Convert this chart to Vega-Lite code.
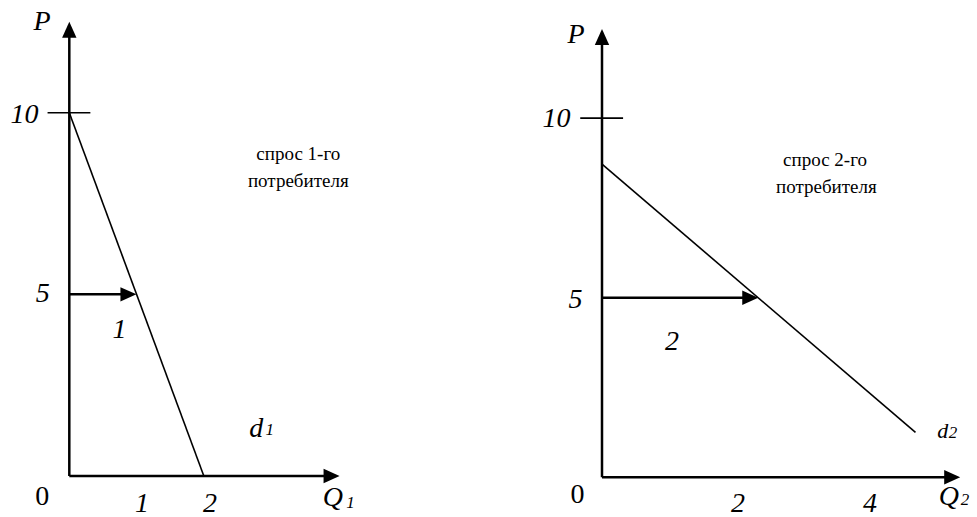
{
  "$schema": "https://vega.github.io/schema/vega-lite/v6.json",
  "padding": 0,
  "background": "white",
  "spacing": 57,
  "config": {"view": {"stroke": null}, "text": {"font": "'Liberation Serif', 'Times New Roman', Times, 'DejaVu Serif', serif"}},
  "hconcat": [
    {
      "width": 477,
      "height": 517,
      "layer": [
        {
          "data": {"values": [
            {"q": 0, "p": 0, "q2": 0, "p2": 12.28},
            {"q": 0, "p": 0, "q2": 3.86, "p2": 0},
            {"q": 0, "p": 5, "q2": 0.87, "p2": 5}
          ]},
          "mark": {"type": "rule", "color": "black", "strokeWidth": 2.5},
          "encoding": {
            "x": {"field": "q", "type": "quantitative", "axis": null, "scale": {"domain": [-1.02, 6], "nice": false, "zero": false}},
            "y": {"field": "p", "type": "quantitative", "axis": null, "scale": {"domain": [-1.129, 13.102], "nice": false, "zero": false}},
            "x2": {"field": "q2"},
            "y2": {"field": "p2"}
          }
        },
        {
          "data": {"values": [
            {"q": 0, "p": 10, "q2": 1.98, "p2": 0},
            {"q": -0.32, "p": 10, "q2": 0.31, "p2": 10}
          ]},
          "mark": {"type": "rule", "color": "black", "strokeWidth": 1.6},
          "encoding": {
            "x": {"field": "q", "type": "quantitative", "axis": null, "scale": {"domain": [-1.02, 6], "nice": false, "zero": false}},
            "y": {"field": "p", "type": "quantitative", "axis": null, "scale": {"domain": [-1.129, 13.102], "nice": false, "zero": false}},
            "x2": {"field": "q2"},
            "y2": {"field": "p2"}
          }
        },
        {
          "data": {"values": [{"q": 3.86, "p": 0}, {"q": 0.87, "p": 5}]},
          "mark": {"type": "point", "shape": "M-1,-0.9L1,0L-1,0.9Z", "size": 256, "filled": true, "color": "black", "opacity": 1, "strokeWidth": 0},
          "encoding": {
            "x": {"field": "q", "type": "quantitative", "axis": null, "scale": {"domain": [-1.02, 6], "nice": false, "zero": false}},
            "y": {"field": "p", "type": "quantitative", "axis": null, "scale": {"domain": [-1.129, 13.102], "nice": false, "zero": false}}
          }
        },
        {
          "data": {"values": [{"q": 0, "p": 12.28}]},
          "mark": {"type": "point", "shape": "M-1,-0.9L1,0L-1,0.9Z", "size": 256, "filled": true, "color": "black", "opacity": 1, "strokeWidth": 0, "angle": 270},
          "encoding": {
            "x": {"field": "q", "type": "quantitative", "axis": null, "scale": {"domain": [-1.02, 6], "nice": false, "zero": false}},
            "y": {"field": "p", "type": "quantitative", "axis": null, "scale": {"domain": [-1.129, 13.102], "nice": false, "zero": false}}
          }
        },
        {
          "data": {"values": [
            {"t": "P", "q": -0.4, "p": 12.28},
            {"t": "10", "q": -0.66, "p": 9.72},
            {"t": "5", "q": -0.39, "p": 4.79},
            {"t": "1", "q": 1.07, "p": -0.99},
            {"t": "2", "q": 2.07, "p": -0.99},
            {"t": "Q", "q": 3.88, "p": -0.83},
            {"t": "1", "q": 0.74, "p": 3.8},
            {"t": "d", "q": 2.75, "p": 1.07}
          ]},
          "mark": {"type": "text", "fontStyle": "italic", "fontSize": 28, "align": "center", "baseline": "alphabetic", "color": "black"},
          "encoding": {
            "x": {"field": "q", "type": "quantitative", "axis": null, "scale": {"domain": [-1.02, 6], "nice": false, "zero": false}},
            "y": {"field": "p", "type": "quantitative", "axis": null, "scale": {"domain": [-1.129, 13.102], "nice": false, "zero": false}},
            "text": {"field": "t"}
          }
        },
        {
          "data": {"values": [
            {"t": "1", "q": 4.14, "p": -0.88},
            {"t": "1", "q": 2.95, "p": 1.13}
          ]},
          "mark": {"type": "text", "fontStyle": "italic", "fontSize": 17, "align": "center", "baseline": "alphabetic", "color": "black"},
          "encoding": {
            "x": {"field": "q", "type": "quantitative", "axis": null, "scale": {"domain": [-1.02, 6], "nice": false, "zero": false}},
            "y": {"field": "p", "type": "quantitative", "axis": null, "scale": {"domain": [-1.129, 13.102], "nice": false, "zero": false}},
            "text": {"field": "t"}
          }
        },
        {
          "data": {"values": [{"t": "0", "q": -0.4, "p": -0.8}]},
          "mark": {"type": "text", "fontSize": 28, "align": "center", "baseline": "alphabetic", "color": "black"},
          "encoding": {
            "x": {"field": "q", "type": "quantitative", "axis": null, "scale": {"domain": [-1.02, 6], "nice": false, "zero": false}},
            "y": {"field": "p", "type": "quantitative", "axis": null, "scale": {"domain": [-1.129, 13.102], "nice": false, "zero": false}},
            "text": {"field": "t"}
          }
        },
        {
          "data": {"values": [
            {"t": "спрос 1-го", "q": 3.37, "p": 8.7},
            {"t": "потребителя", "q": 3.37, "p": 7.95}
          ]},
          "mark": {"type": "text", "fontSize": 19, "align": "center", "baseline": "alphabetic", "color": "black"},
          "encoding": {
            "x": {"field": "q", "type": "quantitative", "axis": null, "scale": {"domain": [-1.02, 6], "nice": false, "zero": false}},
            "y": {"field": "p", "type": "quantitative", "axis": null, "scale": {"domain": [-1.129, 13.102], "nice": false, "zero": false}},
            "text": {"field": "t"}
          }
        }
      ]
    },
    {
      "width": 442,
      "height": 517,
      "layer": [
        {
          "data": {"values": [
            {"q": 0, "p": 0, "q2": 0, "p2": 12.26},
            {"q": 0, "p": 0, "q2": 5.15, "p2": 0},
            {"q": 0, "p": 5, "q2": 2.18, "p2": 5}
          ]},
          "mark": {"type": "rule", "color": "black", "strokeWidth": 2.5},
          "encoding": {
            "x": {"field": "q", "type": "quantitative", "axis": null, "scale": {"domain": [-1, 5.5], "nice": false, "zero": false}},
            "y": {"field": "p", "type": "quantitative", "axis": null, "scale": {"domain": [-1.105, 13.288], "nice": false, "zero": false}},
            "x2": {"field": "q2"},
            "y2": {"field": "p2"}
          }
        },
        {
          "data": {"values": [
            {"q": 0, "p": 8.72, "q2": 4.61, "p2": 1.25},
            {"q": -0.32, "p": 10, "q2": 0.31, "p2": 10}
          ]},
          "mark": {"type": "rule", "color": "black", "strokeWidth": 1.6},
          "encoding": {
            "x": {"field": "q", "type": "quantitative", "axis": null, "scale": {"domain": [-1, 5.5], "nice": false, "zero": false}},
            "y": {"field": "p", "type": "quantitative", "axis": null, "scale": {"domain": [-1.105, 13.288], "nice": false, "zero": false}},
            "x2": {"field": "q2"},
            "y2": {"field": "p2"}
          }
        },
        {
          "data": {"values": [{"q": 5.15, "p": 0}, {"q": 2.18, "p": 5}]},
          "mark": {"type": "point", "shape": "M-1,-0.9L1,0L-1,0.9Z", "size": 256, "filled": true, "color": "black", "opacity": 1, "strokeWidth": 0},
          "encoding": {
            "x": {"field": "q", "type": "quantitative", "axis": null, "scale": {"domain": [-1, 5.5], "nice": false, "zero": false}},
            "y": {"field": "p", "type": "quantitative", "axis": null, "scale": {"domain": [-1.105, 13.288], "nice": false, "zero": false}}
          }
        },
        {
          "data": {"values": [{"q": 0, "p": 12.26}]},
          "mark": {"type": "point", "shape": "M-1,-0.9L1,0L-1,0.9Z", "size": 256, "filled": true, "color": "black", "opacity": 1, "strokeWidth": 0, "angle": 270},
          "encoding": {
            "x": {"field": "q", "type": "quantitative", "axis": null, "scale": {"domain": [-1, 5.5], "nice": false, "zero": false}},
            "y": {"field": "p", "type": "quantitative", "axis": null, "scale": {"domain": [-1.105, 13.288], "nice": false, "zero": false}}
          }
        },
        {
          "data": {"values": [
            {"t": "P", "q": -0.38, "p": 12.09},
            {"t": "10", "q": -0.67, "p": 9.75},
            {"t": "5", "q": -0.39, "p": 4.71},
            {"t": "2", "q": 2.0, "p": -0.97},
            {"t": "4", "q": 3.94, "p": -0.97},
            {"t": "Q", "q": 5.1, "p": -0.77},
            {"t": "2", "q": 1.03, "p": 3.54}
          ]},
          "mark": {"type": "text", "fontStyle": "italic", "fontSize": 28, "align": "center", "baseline": "alphabetic", "color": "black"},
          "encoding": {
            "x": {"field": "q", "type": "quantitative", "axis": null, "scale": {"domain": [-1, 5.5], "nice": false, "zero": false}},
            "y": {"field": "p", "type": "quantitative", "axis": null, "scale": {"domain": [-1.105, 13.288], "nice": false, "zero": false}},
            "text": {"field": "t"}
          }
        },
        {
          "data": {"values": [{"t": "d", "q": 5.01, "p": 1.09}]},
          "mark": {"type": "text", "fontStyle": "italic", "fontSize": 22, "align": "center", "baseline": "alphabetic", "color": "black"},
          "encoding": {
            "x": {"field": "q", "type": "quantitative", "axis": null, "scale": {"domain": [-1, 5.5], "nice": false, "zero": false}},
            "y": {"field": "p", "type": "quantitative", "axis": null, "scale": {"domain": [-1.105, 13.288], "nice": false, "zero": false}},
            "text": {"field": "t"}
          }
        },
        {
          "data": {"values": [
            {"t": "2", "q": 5.34, "p": -0.77},
            {"t": "2", "q": 5.16, "p": 1.09}
          ]},
          "mark": {"type": "text", "fontStyle": "italic", "fontSize": 17, "align": "center", "baseline": "alphabetic", "color": "black"},
          "encoding": {
            "x": {"field": "q", "type": "quantitative", "axis": null, "scale": {"domain": [-1, 5.5], "nice": false, "zero": false}},
            "y": {"field": "p", "type": "quantitative", "axis": null, "scale": {"domain": [-1.105, 13.288], "nice": false, "zero": false}},
            "text": {"field": "t"}
          }
        },
        {
          "data": {"values": [{"t": "0", "q": -0.36, "p": -0.72}]},
          "mark": {"type": "text", "fontSize": 28, "align": "center", "baseline": "alphabetic", "color": "black"},
          "encoding": {
            "x": {"field": "q", "type": "quantitative", "axis": null, "scale": {"domain": [-1, 5.5], "nice": false, "zero": false}},
            "y": {"field": "p", "type": "quantitative", "axis": null, "scale": {"domain": [-1.105, 13.288], "nice": false, "zero": false}},
            "text": {"field": "t"}
          }
        },
        {
          "data": {"values": [
            {"t": "спрос 2-го", "q": 3.28, "p": 8.67},
            {"t": "потребителя", "q": 3.3, "p": 7.91}
          ]},
          "mark": {"type": "text", "fontSize": 19, "align": "center", "baseline": "alphabetic", "color": "black"},
          "encoding": {
            "x": {"field": "q", "type": "quantitative", "axis": null, "scale": {"domain": [-1, 5.5], "nice": false, "zero": false}},
            "y": {"field": "p", "type": "quantitative", "axis": null, "scale": {"domain": [-1.105, 13.288], "nice": false, "zero": false}},
            "text": {"field": "t"}
          }
        }
      ]
    }
  ]
}
